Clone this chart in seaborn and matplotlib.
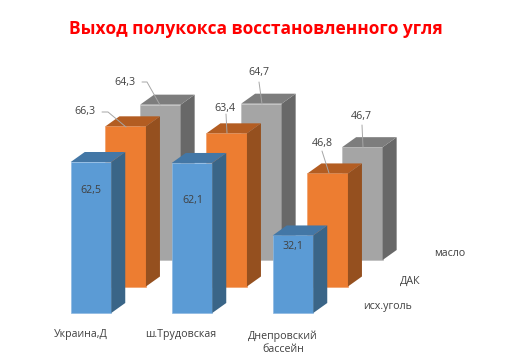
import pandas as pd
import matplotlib
matplotlib.use("Agg")
import matplotlib.pyplot as plt
import seaborn as sns
from matplotlib.patches import Polygon

W, H = 521, 359

# --- Data ---
categories = ["Украина,Д", "ш.Трудовская", "Днепровский\nбассейн"]
series_names = ["исх.уголь", "ДАК", "масло"]
ugol_values = [62.5, 62.1, 32.1]
dak_values = [66.3, 63.4, 46.8]
maslo_values = [64.3, 64.7, 46.7]

# --- Fake 3D layout (in pixels) ---
PX_PER_UNIT = 2.416
STEP_PX = 101
BAR_PX = 40.5
DEPTH_X, DEPTH_Y = 14, 10
BASE_Y = 313
FIRST_X = 91
SHIFT_X, SHIFT_Y = 34.7, 26.5

styles = [
    # front, side, top
    ("#5B9BD5", "#3A6587", "#4377A6"),
    ("#ED7D31", "#95501F", "#B35D22"),
    ("#A5A5A5", "#686868", "#7D7D7D"),
]
edges = ["#8DB9E2", "#F2A06A", "#BEBEBE"]

sns.set_style("white")
plt.rcParams["font.family"] = ["Open Sans", "DejaVu Sans"]
TEXT_COLOR = "#404040"

fig = plt.figure(figsize=(W / 100, H / 100), dpi=100)
ax = fig.add_axes([0, 0, 1, 1])

dx = DEPTH_X / STEP_PX
dy = DEPTH_Y / PX_PER_UNIT
all_values = [ugol_values, dak_values, maslo_values]

# back row first so the front bars cover it
for s in [2, 1, 0]:
    front, side, top = styles[s]
    df = pd.DataFrame({
        "pos": [i + s * SHIFT_X / STEP_PX for i in range(len(categories))],
        "value": all_values[s],
    })
    n_before = len(ax.patches)
    sns.barplot(data=df, x="pos", y="value", native_scale=True,
                width=BAR_PX / STEP_PX, color=front, saturation=1,
                bottom=s * SHIFT_Y / PX_PER_UNIT, edgecolor=edges[s],
                linewidth=0.5, zorder=5 - s, ax=ax, legend=False)
    for bar in ax.patches[n_before:]:
        x0, y0 = bar.get_x(), bar.get_y()
        x1, y1 = x0 + bar.get_width(), y0 + bar.get_height()
        ax.add_patch(Polygon([(x1, y0), (x1 + dx, y0 + dy), (x1 + dx, y1 + dy), (x1, y1)],
                             facecolor=side, edgecolor="none", zorder=5 - s))
        ax.add_patch(Polygon([(x0, y1), (x0 + dx, y1 + dy), (x1 + dx, y1 + dy), (x1, y1)],
                             facecolor=top, edgecolor="none", zorder=5 - s))
ax.set_xlim(-FIRST_X / STEP_PX, (W - FIRST_X) / STEP_PX)
ax.set_ylim(-(H - BASE_Y) / PX_PER_UNIT, BASE_Y / PX_PER_UNIT)
ax.axis("off")


def put_text(x, y, s, **kw):
    kw.setdefault("color", TEXT_COLOR)
    kw.setdefault("fontsize", 7.7)
    fig.text(x / W, 1 - y / H, s, ha="center", va="center", **kw)


def leader(xs, ys):
    ax.plot([x / W for x in xs], [1 - y / H for y in ys], color="#A6A6A6", lw=0.7,
            transform=fig.transFigure, zorder=10)


# --- Title ---
put_text(256, 29, "Выход полукокса восстановленного угля",
         color="#FF0000", fontsize=12.5, fontweight="bold")

# --- Value labels ---
label_xy = [
    [(91, 190), (193, 201), (293, 246)],
    [(85, 112), (225, 108), (322, 144)],
    [(125, 82), (259, 73), (361, 116)],
]
for s, vals in enumerate(all_values):
    for (lx, ly), v in zip(label_xy[s], vals):
        put_text(lx, ly, f"{v:.1f}".replace(".", ","))

leader([102, 108, 126], [112, 112, 127])
leader([142, 147, 160], [82, 82, 105])
leader([226, 227], [114, 133])
leader([259, 262], [82, 104])
leader([322, 329], [151, 173])
leader([362, 363], [125, 147])

# --- Category and series labels ---
put_text(81, 335, categories[0])
put_text(181, 335, categories[1])
put_text(283, 343, categories[2], linespacing=1.2)
put_text(388, 307, series_names[0])
put_text(410, 281, series_names[1])
put_text(450, 254, series_names[2])

fig.savefig("out.png", dpi=100)
plt.close(fig)
